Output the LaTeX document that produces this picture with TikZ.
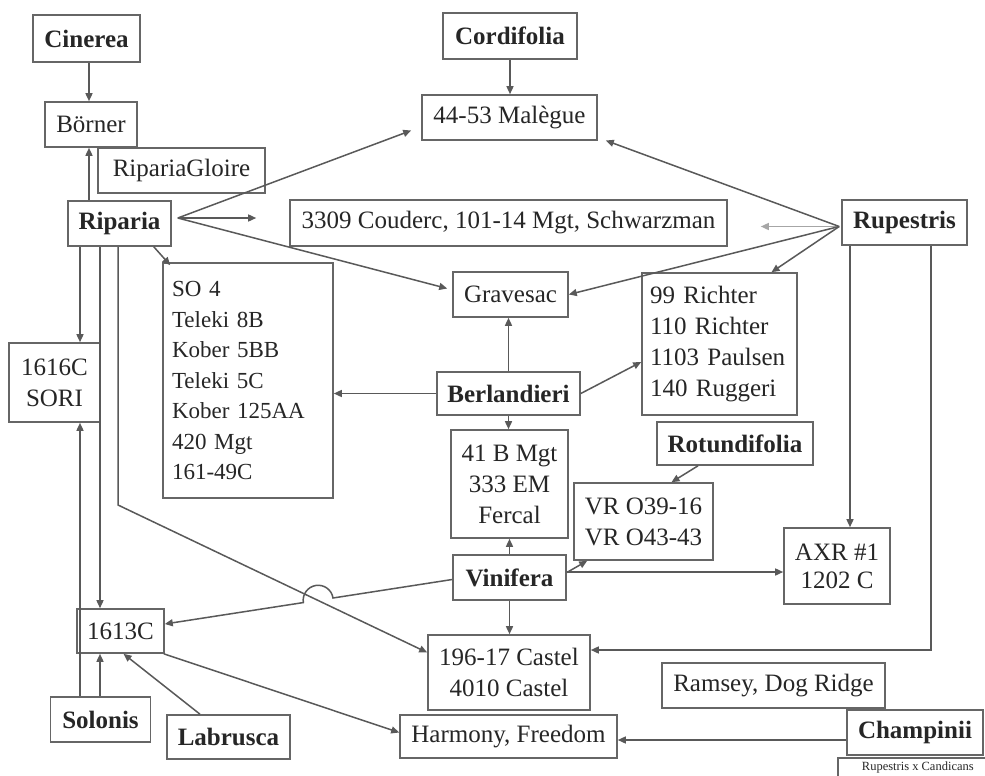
\documentclass[tikz,border=0pt]{standalone}
\usepackage{fontspec}
\setmainfont{Liberation Serif}
\usetikzlibrary{arrows.meta,calc}
\begin{document}
\begin{tikzpicture}[x=1pt,y=1pt,
  sz/.style 2 args={minimum width=#1pt, minimum height=#2pt},
  box/.style={draw=black!60, line width=1.6pt, inner sep=0pt, text=black!85,
    font=\fontsize{25}{31}\selectfont, align=center},
  bbox/.style={box, font=\fontsize{25}{31}\selectfont\bfseries},
  ln/.style={draw=black!65, line width=1.5pt},
  arr/.style={ln, -{Triangle[length=8pt,width=7pt]}},
  lightarr/.style={arr, draw=black!35},
]
\useasboundingbox (0,0) rectangle (985,-776);
\fill[white] (0,0) rectangle (985,-776);

% nodes
\node[bbox, sz={107}{47}] (cin) at (86.5,-38.5) {Cinerea};
\node[box, sz={92}{45}] (bor) at (91,-124.5) {Börner};
\node[box, sz={167}{45}] (glo) at (181.5,-170.5) {RipariaGloire};
\node[bbox, sz={103}{45}] (rip) at (119.5,-223.5) {Riparia};
\node[bbox, sz={134}{46}] (cor) at (510,-36) {Cordifolia};
\node[box, sz={175}{45}] (mal) at (509.5,-117.5) {44-53 Malègue};
\node[box, sz={437}{46}] (cou) at (508.5,-223) {3309 Couderc, 101-14 Mgt, Schwarzman};
\node[bbox, sz={125}{45}] (rup) at (904.5,-222.5) {Rupestris};
\node[box, sz={115}{45}] (gra) at (510.5,-294.5) {Gravesac};
\node[box, sz={155}{142}, align=left, text width=139pt] (ric) at (719.5,-344)
  {99 Richter\\110 Richter\\1103 Paulsen\\140 Ruggeri};
\node[bbox, sz={143}{43}] (ber) at (508.5,-393.5) {Berlandieri};
\node[box, sz={170}{235}, align=left, text width=152pt, font=\fontsize{23}{30.5}\selectfont] (so4) at (248,-380.5)
  {SO 4\\Teleki 8B\\Kober 5BB\\Teleki 5C\\Kober 125AA\\420 Mgt\\161-49C};
\node[box, sz={91}{79}] (sor) at (54.5,-382.5) {1616C\\SORI};
\node[box, sz={117}{108}] (b41) at (509.5,-484) {41 B Mgt\\333 EM\\Fercal};
\node[bbox, sz={156}{43}] (rot) at (735,-443.5) {Rotundifolia};
\node[box, sz={139}{77}] (vr) at (643.5,-521.5) {VR O39-16\\VR O43-43};
\node[bbox, sz={113}{45}] (vin) at (509.5,-577.5) {Vinifera};
\node[box, sz={106}{76}, font=\fontsize{25}{28}\selectfont] (axr) at (837,-566) {AXR \#1\\1202 C};
\node[box, sz={87}{44}] (c13) at (120.5,-631) {1613C};
\node[box, sz={162}{75}] (cas) at (509,-672.5) {196-17 Castel\\4010 Castel};
\node[box, sz={217}{43}] (har) at (508.5,-736.5) {Harmony, Freedom};
\node[box, sz={223}{45}] (ram) at (773.5,-685.5) {Ramsey, Dog Ridge};
\node[bbox, sz={136}{45}] (cha) at (915,-732.5) {Champinii};
\node[box, anchor=north west, minimum width=160pt, inner xsep=7pt, inner ysep=4pt,
  text height=9pt, text depth=30pt, align=left, font=\fontsize{12.5}{14}\selectfont] (rxc) at (837,-757) {Rupestris x Candicans};
\node[bbox, sz={100}{45}] (sol) at (100.5,-719.5) {Solonis};
\node[bbox, sz={123}{44}] (lab) at (228.5,-737) {Labrusca};

% helper coordinates
\coordinate (ripap) at ([xshift=6pt,yshift=5.5pt]rip.east);
\coordinate (rupap) at ([xshift=-2pt,yshift=-4pt]rup.west);
\coordinate (ripbend) at (118,-505);
\coordinate (hopR) at (333.0,-598.0);

% connectors
\draw[arr] ([xshift=2.5pt]cin.south) -- ([xshift=2.5pt]cin.south |- bor.north);
\draw[arr] ([xshift=-30.5pt]rip.north) -- ([xshift=-30.5pt]rip.north |- bor.south);
\draw[arr] (cor.south) -- (cor.south |- mal.north);

\draw[arr] (ripap) -- ([xshift=-10pt,yshift=-13pt]mal.west);
\draw[arr] (ripap) -- ([xshift=-33pt]cou.west |- ripap);
\draw[arr] (ripap) -- ([xshift=-5pt,yshift=6pt]gra.west);
\draw[arr] ([xshift=-18pt]rip.south east) -- ([xshift=8pt,yshift=-3pt]so4.north west);
\draw[arr] ([xshift=-39.5pt]rip.south) -- ([xshift=-39.5pt]rip.south |- sor.north);
\draw[arr] ([xshift=-19.5pt]rip.south) -- ([xshift=-19.5pt]rip.south |- c13.north);
\draw[arr] ([xshift=-1.5pt]rip.south) -- (ripbend) -- ([yshift=20pt]cas.west);

\draw[arr] ([xshift=-20.5pt]sol.north) -- ([xshift=-20.5pt]sol.north |- sor.south);
\draw[arr] ([xshift=-0.5pt]sol.north) -- ([xshift=-0.5pt]sol.north |- c13.south);
\draw[arr] ([xshift=-28.5pt]lab.north) -- ([xshift=3pt]c13.south);
\draw[arr] ([xshift=-1pt]c13.south east) -- ([yshift=4pt]har.west);
\draw[arr] ([yshift=-7.5pt]cha.west) -- ([yshift=-7.5pt]cha.west -| har.east);

\draw[arr] (rupap) -- ([xshift=8pt,yshift=-23pt]mal.east);
\draw[lightarr] (rupap) -- ([xshift=33pt]cou.east |- rupap);
\draw[arr] (rupap) -- (gra.east);
\draw[arr] (rupap) -- ([xshift=52pt]ric.north);
\draw[arr] ([xshift=-54.5pt]rup.south) -- ([xshift=-54.5pt]rup.south |- axr.north);
\draw[arr] ([xshift=26.5pt]rup.south) |- ([yshift=22.5pt]cas.east);

\draw[arr] (ber.north) -- (ber.north |- gra.south);
\draw[arr] (ber.west) -- (ber.west -| so4.east);
\draw[arr] (ber.east) -- ([yshift=-18pt]ric.west);
\draw[arr] (ber.south) -- (ber.south |- b41.north);

\draw[arr] ([xshift=-37pt]rot.south) -- ([xshift=28pt]vr.north);

\draw[arr] (vin.north) -- (vin.north |- b41.south);
\draw[arr] (vin.south) -- (vin.south |- cas.north);
\draw[arr] ([yshift=5pt]vin.east) -- ([xshift=14pt]vr.south west);
\draw[arr] ([yshift=5.5pt]vin.east) -- ([yshift=5.5pt]vin.east -| axr.west);
\draw[arr] ([yshift=-2pt]vin.west) -- (hopR) arc[start angle=8.74, end angle=188.74, radius=15pt] -- ([yshift=7pt]c13.east);
\end{tikzpicture}
\end{document}
